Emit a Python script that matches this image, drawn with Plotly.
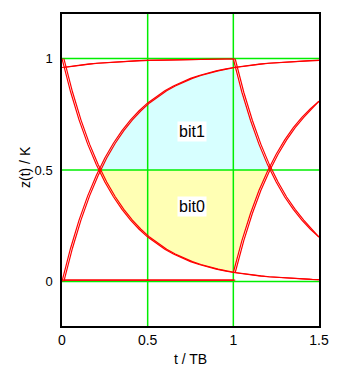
import numpy as np
import plotly.graph_objects as go

# time axis samples (t / TB)
t1 = [0.00, 0.05, 0.10, 0.15, 0.20, 0.25, 0.30, 0.35, 0.40, 0.45, 0.50,
      0.55, 0.60, 0.65, 0.70, 0.75, 0.80, 0.85, 0.90, 0.95, 1.00]
t2 = [1.00, 1.05, 1.10, 1.15, 1.20, 1.25, 1.30, 1.35, 1.40, 1.45, 1.50]

# first bit interval
fall_1 = [1.000, 0.851, 0.724, 0.616, 0.525, 0.446, 0.380, 0.323, 0.275, 0.234, 0.199,
          0.170, 0.144, 0.123, 0.105, 0.089, 0.076, 0.064, 0.055, 0.047, 0.040]
rise_1 = [0.000, 0.149, 0.276, 0.384, 0.475, 0.554, 0.620, 0.677, 0.725, 0.766, 0.801,
          0.830, 0.856, 0.877, 0.895, 0.911, 0.924, 0.936, 0.945, 0.953, 0.960]
high_1 = [0.960, 0.966, 0.971, 0.975, 0.979, 0.982, 0.985, 0.987, 0.989, 0.991, 0.992,
          0.993, 0.994, 0.995, 0.996, 0.996, 0.997, 0.997, 0.998, 0.998, 0.998]
low_1 = [0.006] * len(t1)

# second bit interval
fall_2 = [0.998, 0.849, 0.723, 0.615, 0.523, 0.446, 0.379, 0.323, 0.275, 0.234, 0.199]
rise_2 = [0.040, 0.183, 0.305, 0.409, 0.496, 0.571, 0.635, 0.690, 0.736, 0.775, 0.809]
high_2 = [0.960, 0.966, 0.971, 0.975, 0.979, 0.982, 0.985, 0.987, 0.989, 0.991, 0.992]
low_2 = [0.040, 0.034, 0.029, 0.025, 0.021, 0.018, 0.015, 0.013, 0.011, 0.009, 0.008]

x_ticks = [0, 0.5, 1, 1.5]
x_tick_text = ["0", "0.5", "1", "1.5"]
y_ticks = [0, 0.5, 1]
y_tick_text = ["0", "0.5", "1"]
labels = ["bit1", "bit0"]
label_pos = [(0.76, 0.675), (0.76, 0.335)]

RED = "#ff0000"
GREEN = "#00ee00"
CYAN = "#d7ffff"
YELLOW = "#ffffb4"
FONT = "Liberation Sans, Arial, sans-serif"

fig = go.Figure()


def crossing(t, y, level=0.5):
    t = np.asarray(t); y = np.asarray(y)
    for i in range(len(t) - 1):
        if (y[i] - level) * (y[i + 1] - level) <= 0 and y[i] != y[i + 1]:
            return t[i] + (level - y[i]) * (t[i + 1] - t[i]) / (y[i + 1] - y[i])
    return None


# bit1 region
tc_left = crossing(t1, rise_1)
tc_right1 = crossing(t2, fall_2)
px = [tc_left] + [a for a, b in zip(t1, rise_1) if a > tc_left]
py = [0.5] + [b for a, b in zip(t1, rise_1) if a > tc_left]
px += [a for a, b in zip(t2, fall_2) if a < tc_right1] + [tc_right1]
py += [min(b, rise_1[-1]) if a == t2[0] else b for a, b in zip(t2, fall_2) if a < tc_right1] + [0.5]
fig.add_trace(go.Scatter(x=px, y=py, fill="toself", fillcolor=CYAN, mode="none",
                         hoverinfo="skip", showlegend=False))

# bit0 region
tc_left0 = crossing(t1, fall_1)
tc_right0 = crossing(t2, rise_2)
qx = [tc_left0] + [a for a, b in zip(t1, fall_1) if a > tc_left0]
qy = [0.5] + [b for a, b in zip(t1, fall_1) if a > tc_left0]
qx += [a for a, b in zip(t2, rise_2) if a < tc_right0] + [tc_right0]
qy += [b for a, b in zip(t2, rise_2) if a < tc_right0] + [0.5]
fig.add_trace(go.Scatter(x=qx, y=qy, fill="toself", fillcolor=YELLOW, mode="none",
                         hoverinfo="skip", showlegend=False))

# green grid lines
for yv in y_ticks:
    fig.add_trace(go.Scatter(x=[0, 1.5], y=[yv, yv], mode="lines",
                             line=dict(color=GREEN, width=1.5), hoverinfo="skip", showlegend=False))
for xv in [0.5, 1.0]:
    fig.add_trace(go.Scatter(x=[xv, xv], y=[-0.2, 1.2], mode="lines",
                             line=dict(color=GREEN, width=1.5), hoverinfo="skip", showlegend=False))

# eye diagram traces (drawn twice, slightly shifted, like overlaid sweeps)
DT = 0.011
curves = [(t1, fall_1), (t1, rise_1), (t1, high_1), (t1, low_1),
          (t2, fall_2), (t2, rise_2), (t2, high_2), (t2, low_2)]
for t, y in curves:
    for s in (0.0, DT):
        xs = [min(v + s, 1.5) for v in t]
        fig.add_trace(go.Scatter(x=xs, y=y, mode="lines",
                                 line=dict(color=RED, width=1.2),
                                 hoverinfo="skip", showlegend=False))

for txt, (lx, ly) in zip(labels, label_pos):
    fig.add_annotation(x=lx, y=ly, text=txt, showarrow=False,
                       font=dict(family=FONT, size=16, color="black"),
                       bgcolor="white", borderpad=1)

# y-axis title as rotated annotation
fig.add_annotation(xref="paper", yref="paper", x=0, y=0.5, xshift=-37, yshift=3,
                   xanchor="center", yanchor="middle",
                   text="z(t) / K", textangle=-90, showarrow=False,
                   font=dict(family=FONT, size=14, color="black"))

fig.update_layout(
    width=341, height=370,
    margin=dict(l=62, r=22, t=14, b=44),
    paper_bgcolor="white", plot_bgcolor="white",
    font=dict(family=FONT, size=13, color="black"),
    showlegend=False,
)
fig.update_xaxes(range=[0, 1.5], tickvals=x_ticks, ticktext=x_tick_text,
                 showgrid=False, zeroline=False, showline=True, linecolor="black",
                 linewidth=1.5, mirror=True, ticks="", ticklabelstandoff=0,
                 automargin=False, tickfont=dict(size=14),
                 title=dict(text="t / TB", standoff=8, font=dict(size=14)))
fig.update_yaxes(range=[-0.2, 1.2], tickvals=y_ticks, ticktext=y_tick_text,
                 showgrid=False, zeroline=False, showline=True, linecolor="black",
                 linewidth=1.5, mirror=True, ticks="", ticklabelstandoff=5,
                 automargin=False, tickfont=dict(size=13))

fig.write_html("out.html")
